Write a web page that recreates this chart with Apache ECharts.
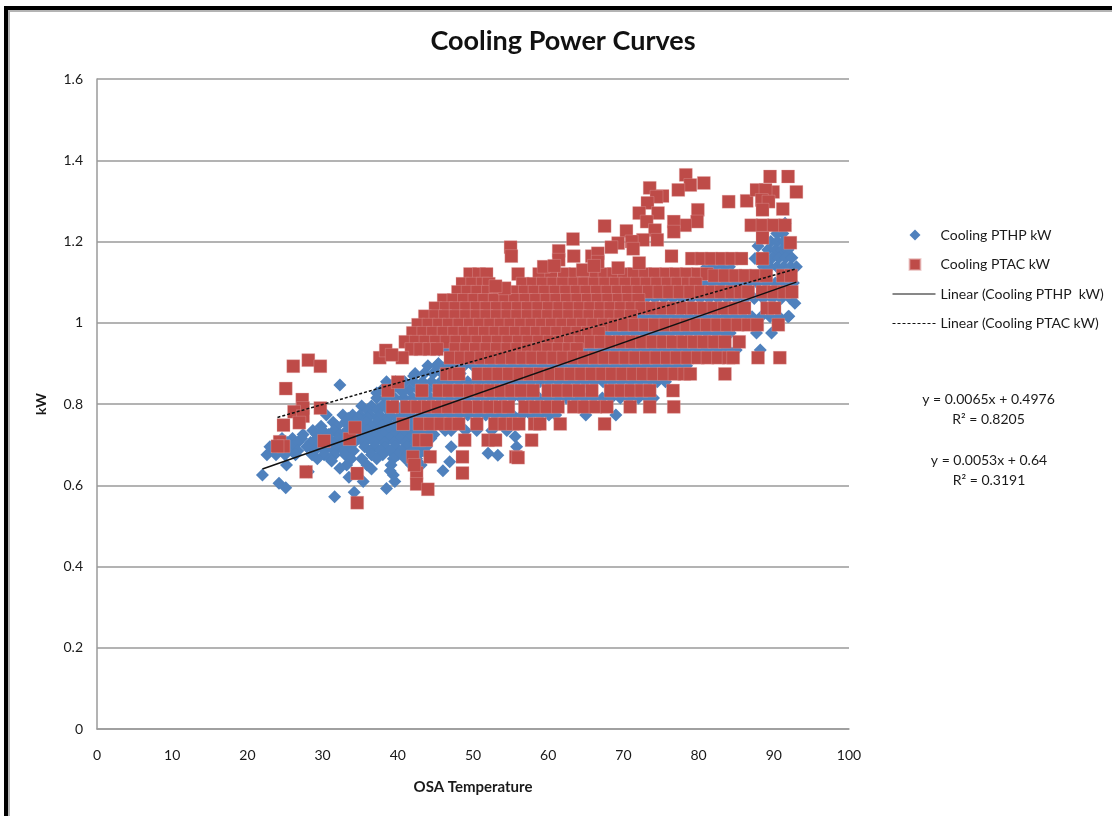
<!DOCTYPE html>
<html>
<head>
<meta charset="utf-8">
<title>Cooling Power Curves</title>
<script src="https://cdn.jsdelivr.net/npm/echarts@6/dist/echarts.min.js"></script>
<style>
    html, body { margin: 0; padding: 0; background: #fff; overflow: hidden; }
    .frame { position: absolute; left: 4px; top: 6px; width: 1108px; height: 810px; box-sizing: border-box; border-left: 4px solid #000; border-top: 4px solid #000; }
    .frame-inner { width: 100%; height: 100%; box-sizing: border-box; border-left: 2px solid #b4b4b4; border-top: 2px solid #b4b4b4; }
    #chart { position: absolute; left: 0; top: 0; width: 1112px; height: 816px; }
</style>
</head>
<body>
<div class="frame"><div class="frame-inner"></div></div>
<div id="chart"></div>
<script>
    var titleText = 'Cooling Power Curves';
    var xName = 'OSA Temperature';
    var yName = 'kW';
    var pthpName = 'Cooling PTHP kW';
    var ptacName = 'Cooling PTAC kW';
    var pthpTrendName = 'Linear (Cooling PTHP  kW)';
    var ptacTrendName = 'Linear (Cooling PTAC kW)';
    var pthpEquation = 'y = 0.0065x + 0.4976\nR² = 0.8205';
    var ptacEquation = 'y = 0.0053x + 0.64\nR² = 0.3191';

    // trend lines, end points
    var pthpTrendX = [22, 93];
    var pthpTrendY = [0.64, 1.10];
    var ptacTrendX = [24, 93];
    var ptacTrendY = [0.767, 1.133];

    // PTAC power is stepped, so the points are listed by level
    var ptacLevels = [1.158, 1.12, 1.116, 1.096, 1.076, 1.056, 1.036, 1.016, 0.995, 0.975, 0.953, 0.935, 0.914, 0.874, 0.833, 0.793, 0.751, 0.711];
    var ptacTemps = [
        [79.1, 80.4, 81.7, 83.1, 84.4, 85.7],
        [49.6, 50.8, 51.8, 56, 58.8, 60.4, 62.1, 63.6, 65, 66.3, 67.5, 68.7, 70.1, 71.4, 72.9, 74.2, 75.7, 77, 78.4, 79.9, 81.1],
        [82.1, 83.5, 84.9, 86.2, 87.6, 89, 91.2, 92.3],
        [48.6, 49.9, 51.3, 52.1, 56.6, 58, 59.3, 60.7, 62, 63.5, 64.8, 66.2, 67.6, 69, 70.3, 71.8, 73.1, 74.5, 75.9, 77.2, 78.6, 79.6],
        [48, 49.3, 50.6, 52, 53.4, 55.5, 56.9, 58.2, 59.6, 61, 62.4, 63.8, 65.1, 66.5, 67.9, 69.3, 70.6, 72, 73.4, 74.8, 76.1, 77.5, 78.9, 80.3, 81.7, 83, 84.4, 85.6, 86.6, 88.5, 90, 91.4, 92.4],
        [46.1, 47.4, 48.8, 50.2, 51.5, 52.9, 54.3, 55.6, 57, 58.4, 59.8, 61.1, 62.5, 63.9, 65.3, 66.6, 68, 69.4, 70.7, 72],
        [45, 46.4, 47.7, 49.1, 50.5, 51.8, 53.2, 54.6, 56, 57.3, 58.7, 60.1, 61.5, 62.8, 64.2, 65.6, 67, 68.3, 69.7, 71.1, 72.4, 73.8, 75.2, 76.6, 77.9, 79.3, 80.7, 82, 83.4, 84.8, 86.1, 89.1, 90.1],
        [43.6, 45, 46.3, 47.7, 49.1, 50.5, 51.8, 53.2, 54.6, 55.9, 57.3, 58.7, 60, 61.4, 62.8, 64.2, 65.5, 66.9, 68.3, 69.6, 71],
        [42.7, 44.1, 45.5, 46.8, 48.2, 49.6, 50.9, 52.3, 53.7, 55, 56.4, 57.8, 59.2, 60.5, 61.9, 63.3, 64.6, 66, 67.4, 68.8, 70.1, 71.5, 72.9, 74.2, 75.6, 77, 78.4, 79.7, 81.1, 82.5, 83.8, 85.2, 86.6, 87.8, 90.6],
        [42, 43.4, 44.7, 46.1, 47.5, 48.9, 50.2, 51.6, 53, 54.3, 55.7, 57.1, 58.5, 59.8, 61.2, 62.6, 63.9, 65.3, 66.7],
        [41, 42.4, 43.7, 45.1, 46.5, 47.8, 49.2, 50.6, 52, 53.3, 54.7, 56.1, 57.4, 58.8, 60.2, 61.6, 62.9, 64.3, 65.7, 67, 68.4, 69.8, 71.1, 72.5, 73.9, 75.3, 76.6, 78, 79.4, 80.7, 82.1, 83.5, 85.4],
        [41.8, 43, 44.2, 45.2, 47.7, 49.1, 50.4, 51.8, 53.2, 54.6, 55.9, 57.3, 58.7, 60, 61.4, 62.8, 63.8],
        [37.6, 40.6, 47, 48.4, 49.7, 51.1, 52.4, 53.8, 55.2, 56.6, 57.9, 59.3, 60.7, 62, 63.4, 64.8, 66.2, 67.5, 68.9, 70.3, 71.6, 73, 74.4, 75.8, 77.1, 78.5, 79.9, 81.2, 82.6, 84, 84.6, 87.9, 90.8],
        [46.5, 47.5, 48.1, 50.7, 52.1, 53.4, 54.8, 56.2, 57.6, 58.9, 60.3, 61.7, 63, 64.4, 65.8, 67.2, 68.5, 69.9, 71.3, 72.6, 74, 75.4, 76.8, 78.1, 78.9, 83.5],
        [38.7, 43.2, 45.5, 46.8, 48.2, 49.6, 51, 52.3, 53.7, 55.1, 56.4, 58, 60, 61.3, 62.7, 64.1, 65.8, 68.3, 69.7, 71, 72.4, 73.5, 76.6],
        [39.3, 41.2, 42.6, 44, 45.3, 46.7, 48.1, 49.4, 50.8, 52.2, 53.6, 54.7, 56.9, 58.3, 59.8, 61.3, 63.4, 64.8, 66.3, 67.8, 70.9, 73.5, 76.7],
        [40.7, 42.9, 44.3, 45.7, 47, 48.1, 50.5, 52.9, 54.2, 55.3, 56.1, 58.2, 58.9, 61.6, 67.5],
        [42.8, 43.8, 48.9, 52, 53, 57.8]
    ];
    // PTAC points that stand alone
    var ptacLooseX = [78.3, 78.9, 77.3, 80.7, 73.5, 75.2, 74.4, 73.2, 72.1, 74.6, 73.1, 79.9, 79.8, 78.2, 76.7, 76.7, 67.5, 70.4, 74.2, 74.5, 72.6, 71.1, 71.3, 69.3, 68.4, 63.3, 55, 55.1, 61.4, 61.4, 63.4, 65.8, 66.6, 66.6, 76.4, 72.1, 84, 86.4, 87.7, 89.5, 91.9, 93, 89.9, 88.9, 88.4, 89.3, 88.5, 91.2, 87, 88.5, 90, 91.5, 88.5, 92.2, 88.5, 26.1, 28.1, 29.7, 25.1, 27.3, 27.4, 29.7, 26.2, 27.4, 26.9, 24.8, 24.3, 24.8, 24, 30.2, 33.6, 34.3, 27.8, 34.6, 34.6, 40, 38.4, 39.2, 42, 44.3, 48.6, 55.7, 56, 48.6, 42.5, 42.5, 44, 42.2, 69.3, 64.6, 59.4, 54.2, 53, 60.8, 66.1];
    var ptacLooseY = [1.364, 1.339, 1.327, 1.344, 1.332, 1.312, 1.31, 1.295, 1.27, 1.27, 1.249, 1.278, 1.249, 1.24, 1.249, 1.224, 1.238, 1.226, 1.228, 1.204, 1.204, 1.2, 1.182, 1.196, 1.186, 1.206, 1.186, 1.164, 1.177, 1.155, 1.164, 1.164, 1.171, 1.15, 1.164, 1.147, 1.298, 1.3, 1.327, 1.36, 1.36, 1.322, 1.322, 1.327, 1.302, 1.298, 1.278, 1.28, 1.24, 1.24, 1.24, 1.24, 1.209, 1.197, 1.158, 0.893, 0.908, 0.893, 0.838, 0.811, 0.79, 0.79, 0.781, 0.77, 0.754, 0.748, 0.707, 0.696, 0.696, 0.709, 0.714, 0.742, 0.633, 0.629, 0.557, 0.854, 0.932, 0.921, 0.67, 0.67, 0.67, 0.67, 0.668, 0.63, 0.63, 0.603, 0.59, 0.65, 1.135, 1.13, 1.138, 1.085, 1.09, 1.14, 1.14];

    // PTHP, stepped the same way above about 0.77
    var pthpLevels = [1.22, 1.2, 1.18, 1.16, 1.138, 1.098, 1.06, 1.015, 0.975, 0.933, 0.894, 0.875, 0.855, 0.835, 0.815, 0.795, 0.785, 0.773, 0.765, 0.755, 0.745, 0.735, 0.725, 0.715, 0.705, 0.695, 0.685, 0.675, 0.665, 0.65];
    var pthpTemps = [
        [90.4, 91.2],
        [89.6, 90.5, 91.4],
        [89.2, 90.2, 91.1, 91.9],
        [88.9, 89.8, 90.7, 91.6, 92.4],
        [81.1, 82.2, 83.3, 84.1, 88.6, 89.5, 90.4, 91.3, 92.2, 93],
        [72.2, 73.4, 74.6, 75.8, 77, 78.2, 79.4, 80.6, 81.8, 83, 84.2, 85.4, 86.6, 87.8, 89, 90.2, 91.4, 92.6],
        [68.2, 69.4, 70.6, 71.8, 73, 74.2, 75.4, 76.6, 77.8, 79, 80.2, 81.4, 82.6, 83.8, 85, 86.2, 87.4, 88.6, 89.8, 91, 92.2],
        [70.3, 71.5, 72.7, 73.9, 75.1, 76.3, 77.5, 78.7, 79.9, 81.1, 82.3, 83.5, 84.7, 85.9, 87.1, 88.3, 89.5, 90.7, 91.9],
        [46.3, 47.5, 48.7, 49.9, 51.1, 52.3, 53.5, 54.7, 55.9, 57.1, 58.3, 59.5, 60.7, 61.9, 63.1, 64.3, 65.5, 66.7, 67.9, 69.1, 70.3, 71.5, 72.7, 73.9, 75.1, 76.3, 77.5, 78.7, 79.9, 81.1, 82.3, 83.5, 84.2, 87.7, 89.7],
        [45.5, 46.7, 47.9, 49.1, 50.3, 51.5, 52.7, 53.9, 55.1, 56.3, 57.5, 58.7, 59.9, 61.1, 62.3, 63.5, 64.7, 65.9, 67.1, 68.3, 69.5, 70.7, 71.9, 73.1, 74.3, 75.5, 76.7, 77.9, 79.1, 80.3, 81.5, 82.7, 83.9, 85, 88.2],
        [44, 45.2, 46.4, 47.6, 48.8, 50, 51.2, 52.4, 53.6, 54.8, 56, 57.2, 58.4, 59.6, 60.8, 62, 63.2, 64.4, 65.6, 66.8, 68, 69.2, 70.4, 71.6, 72.8, 74, 75.2, 76.4, 77.6, 78.4],
        [42.3, 43.5, 44.7, 45.9, 47.1, 48.3],
        [38.5, 39.7, 40.9, 42.1, 43.3, 44.5, 45.7, 46.9, 48.1, 49.3, 50.5, 51.7, 52.9, 54.1, 55.3, 56.5, 57.7, 58.9, 60.1, 61.3, 62.5, 63.7, 64.9, 66.1, 67.3, 68.5, 69.7, 70.9, 72.1, 73.3, 74.5, 75.6],
        [37.9, 39.1, 40.3, 41.5, 42.7, 43.9, 45.1, 46.3],
        [37.2, 38.4, 39.6, 40.8, 42, 43.2, 44.4, 45.6, 46.8, 48, 49.2, 50.4, 51.6, 52.8, 54, 55.2, 56.4, 57.6, 58.8, 60, 61.2, 62.4, 63.6, 64.8, 66, 67.2, 68.4, 69.6, 70.8, 72, 73.2, 74],
        [35.2, 36.5, 37.9, 39.2, 40.6, 42, 43.3, 44.7, 46.1, 47.2],
        [36, 37.3, 38.7, 40.1, 41.4, 42.8, 44.1, 45.4],
        [30.5, 32.7, 34, 35, 36.3, 37.6, 39, 40.4, 41.7, 43.1, 44.5, 45.7, 46.9, 48.1, 49.3, 50.5, 51.7, 52.9, 54.1, 55.3, 56.5, 57.7, 58.9, 60.1, 61, 65, 69],
        [33.4, 34.7, 36, 37.4, 38.7, 40, 41.4, 42.7, 44.1, 45.3],
        [31.4, 33, 34.4, 35.8, 37.2, 38.5, 39.9, 41.3, 42.6, 44, 45.5, 46.7],
        [29.8, 31.9, 33.6, 35, 36.5, 37.9, 39.2, 40.6, 42, 43.4, 44.7],
        [28.7, 30, 31.5, 33.2, 34.8, 36, 37.3, 38.7, 40.1, 41.5, 42.8, 44.2, 46.3, 47.1, 49, 50.5, 52.5, 54.5],
        [27.4, 29.2, 30.8, 32.3, 33.9, 35.4, 36.8, 38.1, 39.5, 40.8, 42.2, 43.5, 44.8],
        [24.6, 26, 27.2, 29.2, 30.6, 32, 33.4, 34.8, 36.1, 37.5, 38.9, 40.3, 41.6, 43, 44.4],
        [25.3, 26.7, 28.4, 30, 31.3, 32.7, 34.2, 35.5, 36.9, 38.2, 39.6, 41, 42.3, 43.7],
        [23, 24.3, 25.7, 27.9, 29.3, 30.7, 32.1, 33.5, 35.6, 37, 38.3, 39.7, 41.2, 42.5, 43.8, 47.1, 55.8],
        [24.1, 25.4, 26.7, 28.9, 30.2, 31.5, 32.8, 34.1, 36.3, 37.7, 39, 40.5, 41.9, 43.2],
        [22.6, 23.8, 25, 26.4, 28.6, 30.2, 31.6, 33, 36.5, 38, 40, 41.3, 42.7, 44],
        [29.3, 31, 33.8, 35.2, 37.2, 39.4, 41, 42.5],
        [33.2, 35.9, 39.1, 41.8, 43.1]
    ];
    var pthpLooseX = [22, 32.3, 31.6, 24.2, 25.1, 34.2, 46, 39.4, 39.6, 38.5, 35.4, 32.3, 31.2, 28.1, 25.2, 37.2, 40.7, 42.1, 45.4, 46.9, 52, 53.3, 91.5, 87.9, 92.8, 92, 87.5, 55.6, 39, 36.5, 33.5];
    var pthpLooseY = [0.625, 0.847, 0.572, 0.605, 0.594, 0.583, 0.636, 0.625, 0.609, 0.592, 0.609, 0.642, 0.66, 0.633, 0.65, 0.827, 0.83, 0.869, 0.9, 0.658, 0.679, 0.674, 1.245, 1.189, 1.048, 1.016, 1.158, 0.72, 0.635, 0.64, 0.62];

    function pointsFromLevels(levels, temps) {
        var points = [];
        for (var i = 0; i < levels.length; i++) {
            for (var j = 0; j < temps[i].length; j++) {
                points.push([temps[i][j], levels[i]]);
            }
        }
        return points;
    }

    function zipPoints(xs, ys) {
        var points = [];
        for (var i = 0; i < xs.length; i++) {
            points.push([xs[i], ys[i]]);
        }
        return points;
    }

    var fontName = 'Lato';
    var textColor = '#1a1a1a';
    var gridColor = '#9a9a9a';

    var myChart = echarts.init(document.getElementById('chart'), null, { renderer: 'canvas' });

    var option = {
        animation: false,
        backgroundColor: 'transparent',
        textStyle: { fontFamily: fontName, color: textColor },
        title: {
            text: titleText,
            left: 558,
            top: 23,
            textAlign: 'center',
            textStyle: { fontFamily: fontName, fontSize: 27, fontWeight: 'bold', color: '#111' }
        },
        legend: [
            {
                orient: 'vertical',
                left: 908.5,
                top: 228,
                padding: 0,
                itemWidth: 11,
                itemHeight: 11,
                itemGap: 15.5,
                selectedMode: false,
                textStyle: { fontFamily: fontName, fontSize: 14, color: textColor, padding: [0, 0, 0, 15] },
                data: [
                    { name: pthpName, icon: 'diamond' },
                    { name: ptacName, icon: 'rect' }
                ]
            },
            {
                orient: 'vertical',
                left: 892,
                top: 287,
                padding: 0,
                itemWidth: 43,
                itemHeight: 11,
                itemGap: 15.5,
                selectedMode: false,
                // the line icon always gets a dot in the middle, hide it
                itemStyle: { opacity: 0 },
                lineStyle: { width: 1 },
                textStyle: { fontFamily: fontName, fontSize: 14, color: textColor },
                data: [pthpTrendName, ptacTrendName]
            }
        ],
        grid: { left: 97, top: 79, right: 263, bottom: 87 },
        xAxis: {
            type: 'value',
            min: 0,
            max: 100,
            interval: 10,
            name: xName,
            nameLocation: 'middle',
            nameGap: 51,
            nameTextStyle: { fontFamily: fontName, fontSize: 15, fontWeight: 'bold', color: textColor },
            splitLine: { show: false },
            axisTick: { show: false },
            axisLine: { lineStyle: { color: gridColor, width: 1.5 } },
            axisLabel: { margin: 19, fontFamily: fontName, fontSize: 14, color: textColor }
        },
        yAxis: {
            type: 'value',
            min: 0,
            max: 1.6,
            interval: 0.2,
            name: yName,
            nameLocation: 'middle',
            nameGap: 49,
            nameTextStyle: { fontFamily: fontName, fontSize: 14, fontWeight: 'bold', color: textColor },
            splitLine: { lineStyle: { color: gridColor, width: 1.5 } },
            axisTick: { show: false },
            axisLine: { show: true, lineStyle: { color: gridColor, width: 1.5 } },
            axisLabel: { margin: 14, fontFamily: fontName, fontSize: 14, color: textColor }
        },
        series: [
            {
                name: pthpName,
                type: 'scatter',
                symbol: 'diamond',
                symbolSize: 13,
                itemStyle: { color: '#4f81bd', opacity: 1 },
                data: pointsFromLevels(pthpLevels, pthpTemps).concat(zipPoints(pthpLooseX, pthpLooseY))
            },
            {
                name: ptacName,
                type: 'scatter',
                symbol: 'rect',
                symbolSize: 13,
                itemStyle: { color: '#be4b48', opacity: 1, borderColor: 'rgba(226,170,168,0.55)', borderWidth: 0.6 },
                data: pointsFromLevels(ptacLevels, ptacTemps).concat(zipPoints(ptacLooseX, ptacLooseY))
            },
            {
                name: pthpTrendName,
                type: 'line',
                symbol: 'none',
                lineStyle: { color: '#111', width: 1.5 },
                itemStyle: { color: '#111' },
                data: zipPoints(pthpTrendX, pthpTrendY)
            },
            {
                name: ptacTrendName,
                type: 'line',
                symbol: 'none',
                lineStyle: { color: '#111', width: 1.5, type: [3, 2] },
                itemStyle: { color: '#111' },
                data: zipPoints(ptacTrendX, ptacTrendY)
            }
        ],
        graphic: [
            {
                type: 'text',
                x: 988.5,
                y: 389,
                style: { text: pthpEquation, fontFamily: fontName, fontSize: 14, lineHeight: 20, fill: textColor, align: 'center' }
            },
            {
                type: 'text',
                x: 989,
                y: 450,
                style: { text: ptacEquation, fontFamily: fontName, fontSize: 14, lineHeight: 20, fill: textColor, align: 'center' }
            }
        ]
    };

    myChart.setOption(option);
</script>
</body>
</html>
